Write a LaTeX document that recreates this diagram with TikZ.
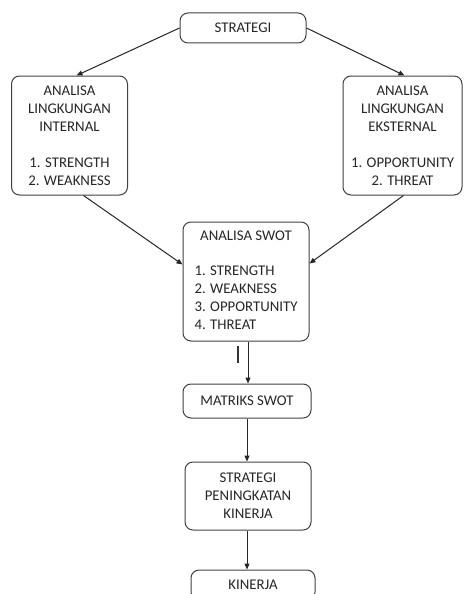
\documentclass[tikz,border=0pt]{standalone}
\usepackage{fontspec}
\setmainfont{Carlito}
\usetikzlibrary{positioning,arrows.meta}

\begin{document}
\begin{tikzpicture}[x=1pt, y=-1pt,
		box/.style={rectangle, rounded corners=8pt, draw=black!75, line width=1pt, text=black!85,
			align=center, inner sep=2pt, font=\fontsize{14.8}{18}\selectfont},
		listbox/.style={box, minimum width=116pt, minimum height=119pt}
	]
	\useasboundingbox (0,0) rectangle (463,594);
	\clip (0,0) rectangle (463,594);
	\node[box, minimum width=126pt, minimum height=30pt] (strategi) at (243,28) {STRATEGI};
	\node[listbox] (internal) at (69.5,135.5) {ANALISA\\LINGKUNGAN\\INTERNAL\\[18pt]1. STRENGTH\\2. WEAKNESS};
	\node[listbox, minimum width=119pt] (eksternal) at (402.5,135.5) {ANALISA\\LINGKUNGAN\\EKSTERNAL\\[18pt]1. OPPORTUNITY\\2. THREAT};
	\node[listbox, minimum width=126pt] (swot) at (246,281.5) {\begin{tabular}{@{}l@{}}
			\multicolumn{1}{@{}c@{}}{ANALISA SWOT}\\[17pt]
			1. STRENGTH\\2. WEAKNESS\\3. OPPORTUNITY\\4. THREAT
		\end{tabular}};
	\node[box, minimum width=128pt, minimum height=34pt] (matriks) [below=42pt of swot, xshift=1pt] {MATRIKS SWOT};
	\node[box, minimum width=126pt, minimum height=68pt, text depth=0pt] (peningkatan) [below=43pt of matriks, xshift=1pt] {STRATEGI\\PENINGKATAN\\KINERJA};
	\node[box, minimum width=124pt, minimum height=30pt] (kinerja) [below=39pt of peningkatan, xshift=5pt] {KINERJA};
	\begin{scope}[line width=1pt, draw=black!85, -{Triangle[length=6pt, width=5pt]}]
		\draw (strategi.west) -- ([xshift=7pt]internal.north);
		\draw (strategi.east) -- ([xshift=2pt]eksternal.north);
		\draw ([xshift=14pt]internal.south) -- ([yshift=17pt]swot.west);
		\draw ([xshift=1pt]eksternal.south) -- ([yshift=18pt]swot.east);
		\draw ([xshift=2pt]swot.south) -- ([xshift=2pt]swot.south |- matriks.north);
		\draw (matriks.south) -- (matriks.south |- peningkatan.north);
		\draw ([xshift=-1pt]peningkatan.south) -- ([xshift=-1pt]peningkatan.south |- kinerja.north);
	\end{scope}
	% small mark under the swot box
	\draw[line width=2pt, black!80] ([xshift=-8pt, yshift=-4pt]swot.south) -- ++(0,17);
\end{tikzpicture}
\end{document}
